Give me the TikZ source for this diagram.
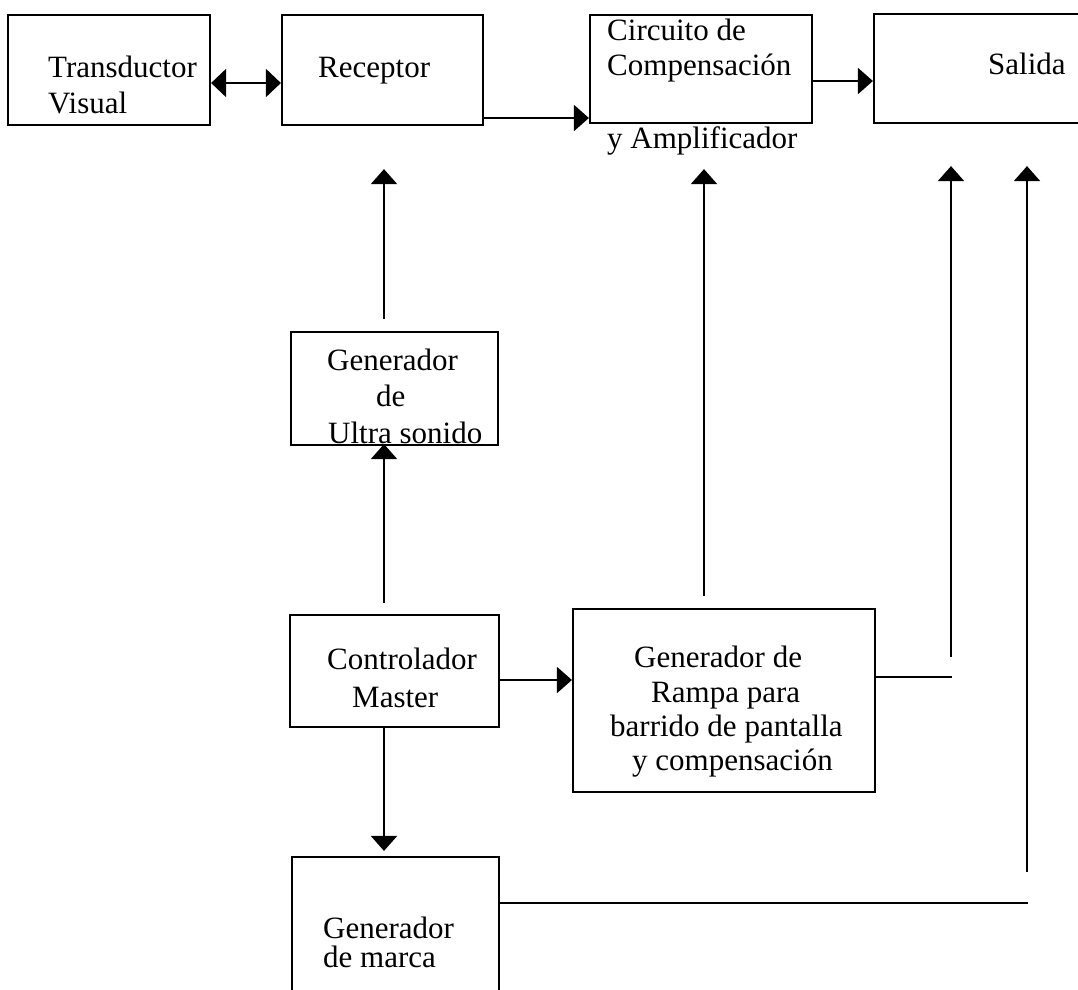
\documentclass[tikz,border=0pt]{standalone}
\usepackage{fontspec}
\setmainfont{Liberation Serif}
\usetikzlibrary{arrows.meta}

\begin{document}
\begin{tikzpicture}[x=1pt, y=-1pt,
  box/.style={draw, line width=2.2pt, inner sep=0pt},
  lbl/.style={anchor=base west, inner sep=0pt, font=\fontsize{31}{35}\selectfont},
  wire/.style={line width=2.2pt},
  arr/.style={wire, -{Triangle[width=26pt, length=15pt]}},
  arrboth/.style={wire, {Triangle[width=28pt, length=15pt]}-{Triangle[width=28pt, length=15pt]}}]
\useasboundingbox (0,0) rectangle (1078,989);

% blocks
\node[box, minimum width=202pt, minimum height=110pt] (tv)    at (109,70)    {};
\node[box, minimum width=201pt, minimum height=110pt] (rec)   at (382.5,70)  {};
\node[box, minimum width=222pt, minimum height=108pt] (comp)  at (701,69)    {};
\node[box, minimum width=218pt, minimum height=109pt] (sal)   at (983,68.5)  {};
\node[box, minimum width=207pt, minimum height=113pt] (ultra) at (394.5,388.5) {};
\node[box, minimum width=209pt, minimum height=112pt] (ctrl)  at (394.5,671) {};
\node[box, minimum width=302pt, minimum height=183pt] (rampa) at (724,700.5) {};
\node[box, minimum width=207pt, minimum height=143pt] (marca) at (395.5,928.5) {};

% labels
\node[lbl] (tvA) at (48,77)  {Transductor};
\node[lbl] (tvB) at (48,113) {Visual};
\node[lbl] (recA) at (318,77) {Receptor};
\node[lbl] (compA) at (607,40)  {Circuito de};
\node[lbl] (compB) at (607,75)  {Compensación};
\node[lbl] (compC) at (607,148) {y Amplificador};
\node[lbl] (salA) at (988,74) {Salida};
\node[lbl] (ultA) at (327,370) {Generador};
\node[lbl] (ultB) at (376,406) {de};
\node[lbl] (ultC) at (328,443) {Ultra sonido};
\node[lbl] (ctrlA) at (327,669) {Controlador};
\node[lbl] (ctrlB) at (352,707) {Master};
\node[lbl] (rmpA) at (634,667) {Generador de};
\node[lbl] (rmpB) at (651,702) {Rampa para};
\node[lbl] (rmpC) at (610,736) {barrido de pantalla};
\node[lbl] (rmpD) at (632,770) {y compensación};
\node[lbl] (mrcA) at (323,938) {Generador};
\node[lbl] (mrcB) at (323,967) {de marca};

% free ends of the feed lines into the output block
\coordinate (rampaOut) at (952,677);
\coordinate (rampaUp)  at (951,657);
\coordinate (marcaOut) at (1028,903);
\coordinate (marcaUp)  at (1027,872);

% connectors
\draw[arrboth] (tv.east |- 0,83) -- (rec.west |- 0,83);
\draw[arr] (rec.east |- 0,118) -- (comp.west |- 0,118);
\draw[arr] (comp.east |- 0,81) -- (sal.west |- 0,81);
\draw[arr, shorten <=12pt, shorten >=43pt] (ultra.north -| 384,0) -- (rec.south -| 384,0);
\draw[arr, shorten <=11pt, shorten >=-2pt] (ctrl.north -| 384,0) -- (ultra.south -| 384,0);
\draw[arr, shorten >=5pt] (ctrl.south -| 384,0) -- (marca.north -| 384,0);
\draw[arr] (ctrl.east |- 0,680) -- (rampa.west |- 0,680);
\draw[arr, shorten <=12pt, shorten >=45pt] (rampa.north -| 704,0) -- (comp.south -| 704,0);
\draw[wire] (rampa.east |- rampaOut) -- (rampaOut);
\draw[arr, shorten >=42pt] (rampaUp) -- (sal.south -| rampaUp);
\draw[wire] (marca.east |- marcaOut) -- (marcaOut);
\draw[arr, shorten >=42pt] (marcaUp) -- (sal.south -| marcaUp);
\end{tikzpicture}
\end{document}
